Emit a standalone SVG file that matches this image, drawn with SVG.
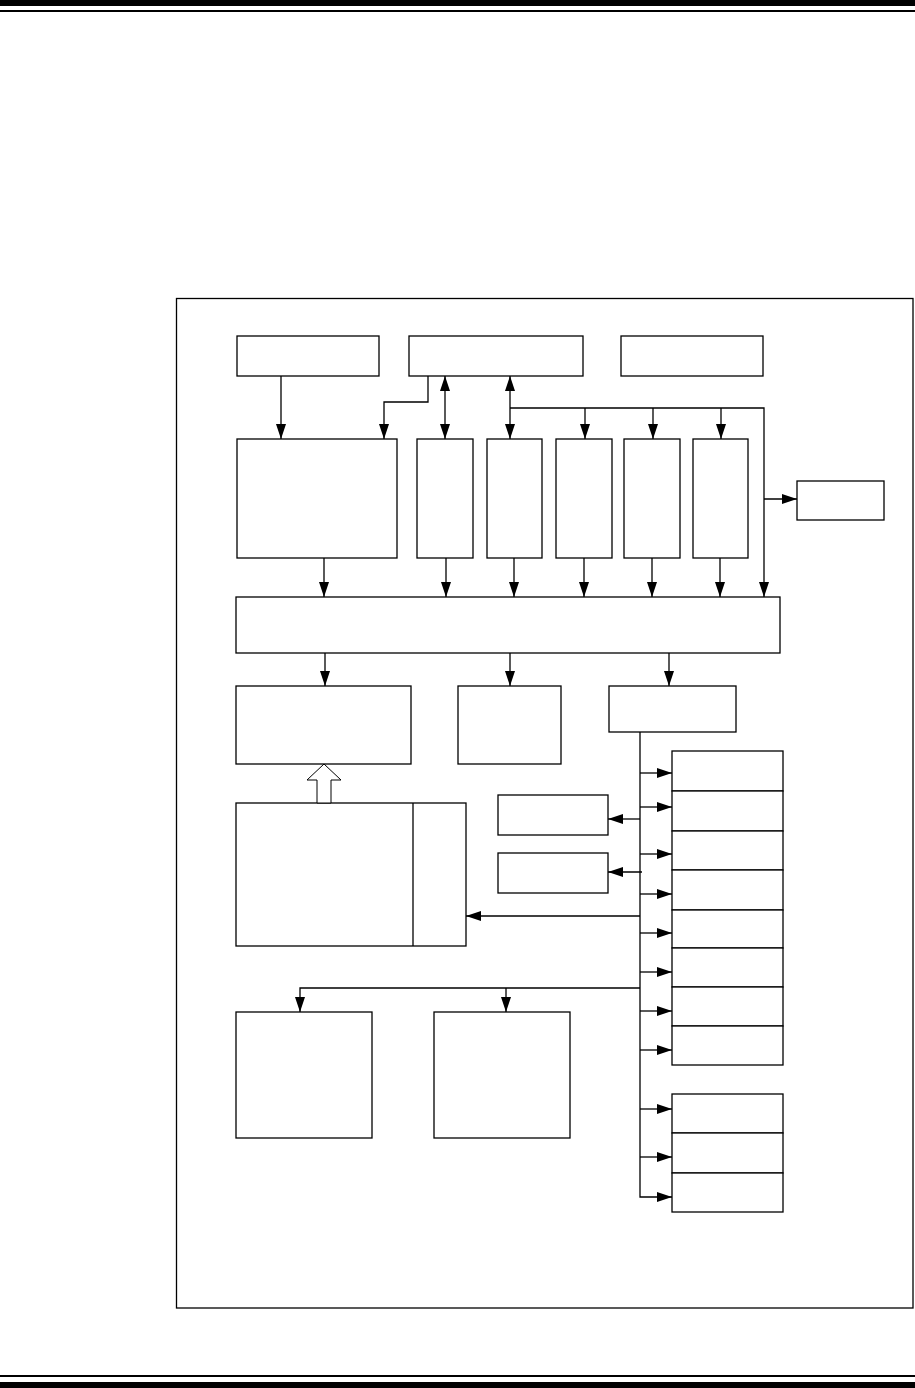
<svg xmlns="http://www.w3.org/2000/svg" width="915" height="1388" viewBox="0 0 915 1388">
<style>
.box{fill:#fff;stroke:#000;stroke-width:1.3}
.ln{fill:none;stroke:#000;stroke-width:1.3}
.arr{marker-end:url(#ah)}
.dbl{marker-start:url(#ah);marker-end:url(#ah)}
</style>
<defs>
<marker id="ah" markerUnits="userSpaceOnUse" markerWidth="16" markerHeight="10" refX="15" refY="5" orient="auto-start-reverse" viewBox="0 0 16 10">
<path d="M0,0 L15,5 L0,10 z" fill="#000"/>
</marker>
</defs>
<rect width="915" height="1388" fill="#fff"/>
<g id="header">
<rect x="0" y="0" width="915" height="6" fill="#000"/>
<rect x="0" y="10" width="915" height="2" fill="#000"/>
</g>
<g id="footer">
<rect x="0" y="1375" width="915" height="2" fill="#000"/>
<rect x="0" y="1382" width="915" height="6" fill="#000"/>
</g>
<g id="frame"><rect class="box" x="176.5" y="298.5" width="736.5" height="1009.5"/></g>

<g id="nA"><rect class="box" x="237" y="336" width="142" height="40"/></g>
<g id="nB"><rect class="box" x="409" y="336" width="174" height="40"/></g>
<g id="nC"><rect class="box" x="621" y="336" width="142" height="40"/></g>
<g id="nD"><rect class="box" x="237" y="439" width="160" height="119"/></g>
<g id="nE1"><rect class="box" x="417" y="439" width="56" height="119"/></g>
<g id="nE2"><rect class="box" x="487" y="439" width="55" height="119"/></g>
<g id="nE3"><rect class="box" x="556" y="439" width="56" height="119"/></g>
<g id="nE4"><rect class="box" x="624" y="439" width="56" height="119"/></g>
<g id="nE5"><rect class="box" x="693" y="439" width="55" height="119"/></g>
<g id="nF"><rect class="box" x="797" y="481" width="87" height="39"/></g>
<g id="nG"><rect class="box" x="236" y="597" width="544" height="56"/></g>
<g id="nH"><rect class="box" x="236" y="686" width="175" height="78"/></g>
<g id="nI"><rect class="box" x="458" y="686" width="103" height="78"/></g>
<g id="nJ"><rect class="box" x="609" y="686" width="127" height="46"/></g>
<g id="nM"><rect class="box" x="236" y="803" width="230" height="143"/><line class="ln" x1="413" y1="803" x2="413" y2="946"/></g>
<g id="nL1"><rect class="box" x="498" y="795" width="110" height="40"/></g>
<g id="nL2"><rect class="box" x="498" y="853" width="110" height="40"/></g>
<g id="nK1"><rect class="box" x="672" y="751" width="111" height="40"/></g>
<g id="nK2"><rect class="box" x="672" y="791" width="111" height="40"/></g>
<g id="nK3"><rect class="box" x="672" y="831" width="111" height="39"/></g>
<g id="nK4"><rect class="box" x="672" y="870" width="111" height="40"/></g>
<g id="nK5"><rect class="box" x="672" y="910" width="111" height="38"/></g>
<g id="nK6"><rect class="box" x="672" y="948" width="111" height="39"/></g>
<g id="nK7"><rect class="box" x="672" y="987" width="111" height="39"/></g>
<g id="nK8"><rect class="box" x="672" y="1026" width="111" height="39"/></g>
<g id="nK9"><rect class="box" x="672" y="1094" width="111" height="39"/></g>
<g id="nK10"><rect class="box" x="672" y="1133" width="111" height="40"/></g>
<g id="nK11"><rect class="box" x="672" y="1173" width="111" height="39"/></g>
<g id="nN"><rect class="box" x="236" y="1012" width="136" height="126"/></g>
<g id="nO"><rect class="box" x="434" y="1012" width="136" height="126"/></g>

<g id="connectors">
<path class="ln arr" d="M281,376 V439"/>
<path class="ln arr" d="M428,376 V402 H384 V439"/>
<path class="ln dbl" d="M445,376 V439"/>
<path class="ln dbl" d="M510,376 V439"/>
<path class="ln arr" d="M510,408 H764 V597"/>
<path class="ln arr" d="M585,408 V439"/>
<path class="ln arr" d="M653,408 V439"/>
<path class="ln arr" d="M721,408 V439"/>
<path class="ln arr" d="M764,499 H797"/>
<path class="ln arr" d="M324,558 V597"/>
<path class="ln arr" d="M446,558 V597"/>
<path class="ln arr" d="M514,558 V597"/>
<path class="ln arr" d="M584,558 V597"/>
<path class="ln arr" d="M652,558 V597"/>
<path class="ln arr" d="M720,558 V597"/>
<path class="ln arr" d="M325,653 V686"/>
<path class="ln arr" d="M510,653 V686"/>
<path class="ln arr" d="M669,653 V686"/>
<path class="ln arr" d="M640,732 V1197 H672"/>
<path class="ln arr" d="M640,773 H672"/>
<path class="ln arr" d="M640,807 H672"/>
<path class="ln arr" d="M640,854 H672"/>
<path class="ln arr" d="M640,894 H672"/>
<path class="ln arr" d="M640,933 H672"/>
<path class="ln arr" d="M640,972 H672"/>
<path class="ln arr" d="M640,1011 H672"/>
<path class="ln arr" d="M640,1050 H672"/>
<path class="ln arr" d="M640,1109 H672"/>
<path class="ln arr" d="M640,1157 H672"/>
<path class="ln arr" d="M640,819 H608"/>
<path class="ln arr" d="M642,872 H608"/>
<path class="ln arr" d="M640,916 H466"/>
<path class="ln arr" d="M640,988 H300 V1012"/>
<path class="ln arr" d="M506,988 V1012"/>
<polygon points="317,803 317,780 307,780 324,764 341,780 331,780 331,803" fill="#fff" stroke="#000" stroke-width="1"/>
</g>
</svg>
